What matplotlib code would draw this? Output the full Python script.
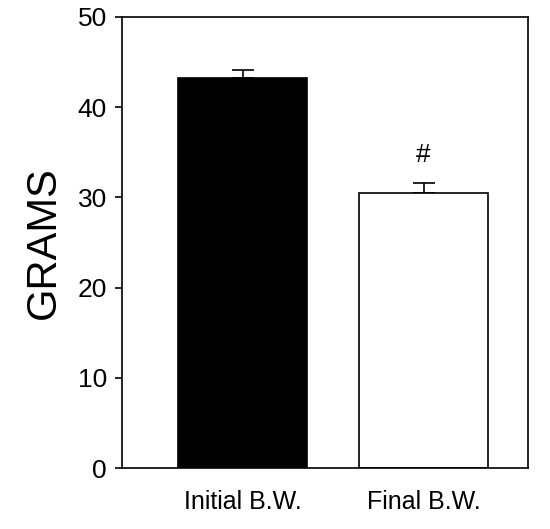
import matplotlib
matplotlib.use("Agg")
import matplotlib.pyplot as plt

categories = ["Initial B.W.", "Final B.W."]
values = [43.2, 30.5]
errors = [0.9, 1.1]
colors = ["black", "white"]
yticks = [0, 10, 20, 30, 40, 50]

plt.rcParams['font.family'] = ['Liberation Sans', 'DejaVu Sans']
fig = plt.figure(figsize=(5.5, 5.29), dpi=100)
ax = fig.add_axes([0.222, 0.115, 0.738, 0.853])
x = [0, 1]
ax.bar(x, values, width=0.71, color=colors, edgecolor="black", linewidth=1.2, zorder=2)
ax.errorbar(x, values, yerr=[[0, 0], errors], fmt="none", ecolor="black",
            elinewidth=1.2, capsize=8, capthick=1.2, zorder=1)
ax.text(1, values[1] + errors[1] + 1.8, "#", ha="center", va="bottom", fontsize=19)
ax.set_xlim(-0.666, 1.577)
ax.set_ylim(0, 50)
ax.set_yticks(yticks)
ax.set_xticks(x)
ax.set_xticklabels(categories, fontsize=18)
ax.tick_params(axis="x", length=0, pad=16)
ax.tick_params(axis="y", labelsize=19, length=5, width=1.2, direction="out", pad=6)
ax.set_ylabel("GRAMS", fontsize=30, labelpad=10)
for s in ax.spines.values():
    s.set_linewidth(1.2)
fig.savefig("out.png", dpi=100)
